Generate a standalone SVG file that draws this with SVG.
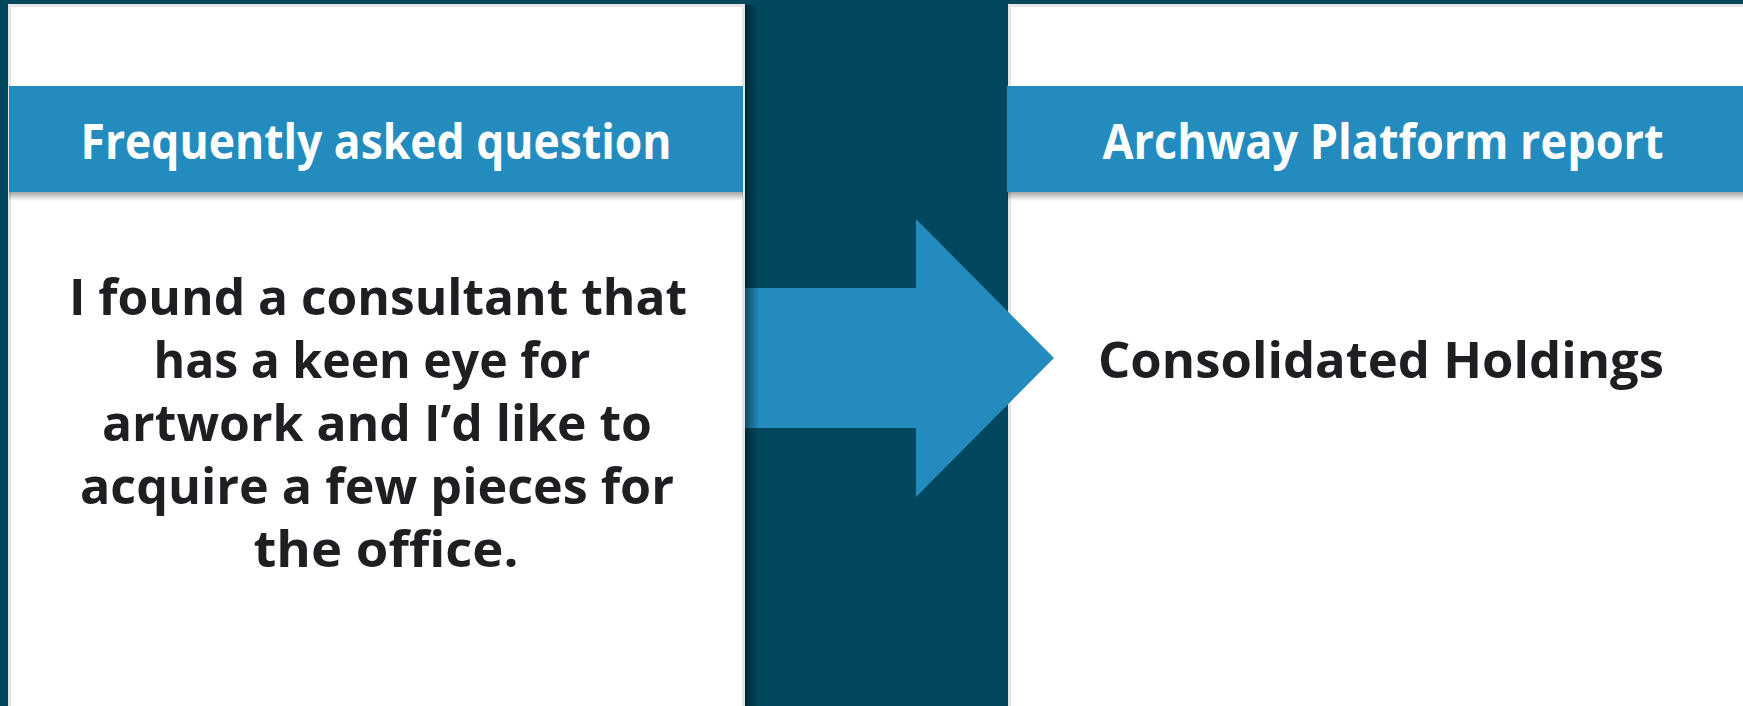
<svg xmlns="http://www.w3.org/2000/svg" width="1743" height="706" viewBox="0 0 1743 706">
  <defs>
    <linearGradient id="shadowDown" x1="0" y1="0" x2="0" y2="1">
      <stop offset="0" stop-color="#000" stop-opacity="0.35"/>
      <stop offset="1" stop-color="#000" stop-opacity="0"/>
    </linearGradient>
    <linearGradient id="shadowRight" x1="0" y1="0" x2="1" y2="0">
      <stop offset="0" stop-color="#000" stop-opacity="0.45"/>
      <stop offset="1" stop-color="#000" stop-opacity="0"/>
    </linearGradient>
  </defs>
  <style>
    .panel { fill: #ffffff; stroke: #e4e4e4; stroke-width: 3; }
    .band { fill: #238bbe; }
    .head { font-family: "Open Sans", "Noto Sans", "Liberation Sans", sans-serif; font-weight: 700; font-size: 48px; fill: #ffffff; text-anchor: middle; }
    .body { font-family: "Open Sans", "Noto Sans", "Liberation Sans", sans-serif; font-weight: 700; font-size: 50px; fill: #1f1f23; text-anchor: middle; }
  </style>

  <rect x="0" y="0" width="1743" height="706" fill="#01475e"/>

  <g id="faq">
    <rect class="panel" x="9.5" y="5.5" width="734" height="710"/>
    <rect class="band" x="9" y="86" width="734" height="106"/>
    <rect x="9" y="192" width="734" height="9" fill="url(#shadowDown)"/>
    <text class="head" x="376" y="159" textLength="591" lengthAdjust="spacingAndGlyphs">Frequently asked question</text>
    <text class="body" x="378" y="315" textLength="618" lengthAdjust="spacingAndGlyphs">I found a consultant that</text>
    <text class="body" x="372" y="378" textLength="437" lengthAdjust="spacingAndGlyphs">has a keen eye for</text>
    <text class="body" x="377" y="441" textLength="550" lengthAdjust="spacingAndGlyphs">artwork and I’d like to</text>
    <text class="body" x="377" y="504" textLength="594" lengthAdjust="spacingAndGlyphs">acquire a few pieces for</text>
    <text class="body" x="386" y="567" textLength="265" lengthAdjust="spacingAndGlyphs">the office.</text>
  </g>

  <g id="report">
    <rect class="panel" x="1009.5" y="5.5" width="760" height="710"/>
    <rect class="band" x="1007" y="86" width="760" height="106"/>
    <rect x="1007" y="192" width="760" height="9" fill="url(#shadowDown)"/>
    <text class="head" x="1383" y="159" textLength="561" lengthAdjust="spacingAndGlyphs">Archway Platform report</text>
    <text class="body" x="1381" y="378" textLength="566" lengthAdjust="spacingAndGlyphs">Consolidated Holdings</text>
  </g>

  <g id="connectors">
    <polygon points="745,288 916,288 916,219 1054,358 916,497 916,428 745,428" fill="#238bbe"/>
  </g>

  <rect x="745" y="5" width="14" height="701" fill="url(#shadowRight)"/>
</svg>
